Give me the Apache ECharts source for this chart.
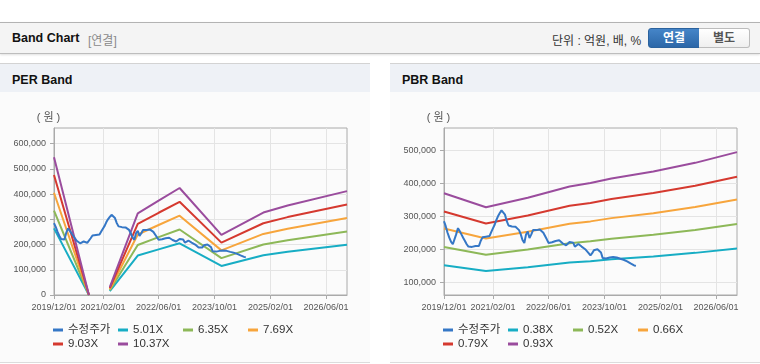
<!DOCTYPE html>
<html><head><meta charset="utf-8">
<script src="https://cdn.jsdelivr.net/npm/echarts@6/dist/echarts.min.js"></script>
<style>
html,body{margin:0;padding:0;width:760px;height:364px;background:#fff;overflow:hidden;font-family:"Liberation Sans",Arial,"Noto Sans CJK KR",sans-serif;}
.abs{position:absolute;}
#topbar{left:0;top:22px;width:760px;height:30px;background:#f4f4f4;border-top:1px solid #b3b3b3;border-bottom:1px solid #bdbdbd;box-shadow:0 1px 2px rgba(0,0,0,0.12);}
.title{font-weight:bold;font-size:12.5px;color:#111;}
.panel{top:63px;height:298px;background:#fbfbfb;border-top:1px solid #d3d3d3;border-bottom:1px solid #dcdcdc;}
.phead{left:0;top:0;right:0;height:28px;background:#eef1f6;}
#chart{left:0;top:0;width:760px;height:364px;}
.btn{top:28px;height:18px;width:50px;font-size:12px;font-weight:bold;text-align:center;line-height:18px;box-sizing:content-box;}
</style></head>
<body>
<div id="topbar" class="abs"></div>
<div class="abs title" style="left:12px;top:31px;">Band Chart</div>
<div class="abs" style="left:88px;top:31px;font-size:12px;color:#8a8a8a;">[연결]</div>
<div class="abs" style="left:552px;top:31px;font-size:12px;color:#333;">단위 : 억원, 배, %</div>
<div class="abs btn" style="left:648px;background:linear-gradient(#4585c8,#2c67a8);border:1px solid #2b629d;border-radius:3px 0 0 3px;color:#fff;">연결</div>
<div class="abs btn" style="left:699px;background:linear-gradient(#ffffff,#efefef);border:1px solid #bcbcbc;border-left:none;border-radius:0 3px 3px 0;color:#555;">별도</div>
<div class="abs panel" style="left:0;width:370px;"><div class="abs phead"></div><div class="abs title" style="left:12px;top:9px;">PER Band</div></div>
<div class="abs panel" style="left:390px;width:370px;"><div class="abs phead"></div><div class="abs title" style="left:12px;top:9px;">PBR Band</div></div>
<div id="chart" class="abs"></div>
<script>
// ---------- data (values in thousand won) ----------
const UNIT = 1000;
const xTickLabels = ['2019/12/01','2021/02/01','2022/06/01','2023/10/01','2025/02/01','2026/06/01'];
const xStart = '2019/12/01', xEnd = '2026/12/01';
const yTicksPER = [0,100000,200000,300000,400000,500000,600000];
const yTicksPBR = [100000,200000,300000,400000,500000];

// 수정주가: semi-monthly (1st and 16th) from 2019/12/01
const priceStart = '2019/12/01';
const priceValues = [285,270,250,235,222,215,220,245,264,255,
  245,235,225,215,208,205,207,212,210,207,
  210,225,236,240,238,239,240,252,264,275,
  288,300,310,318,322,305,285,272,269,269,
  270,268,262,258,245,228,219,245,254,234,
  245,258,260,258,257,260,255,250,245,230,
  219,220,221,222,225,229,227,222,218,215,
  212,216,222,228,220,208,210,216,212,208,
  204,200,194,188,181,188,197,203,200,195,
  190,173,170,172,174,175,176,176,176,175,
  173,171,169,168,166,163,160,157,154,151,149];

// PER band
const perNames = ['5.01X','6.35X','7.69X','9.03X','10.37X'];
const perDates = ['2019/12/01','2020/10/01','2021/01/01','2021/04/01','2021/12/01','2022/06/01','2022/12/01','2023/12/01','2024/12/01','2025/07/01','2026/12/01'];
const per501  = [264.0,0,null,15.0,156.3,180.9,204.9,115.2,157.8,171.3,198.9];
const per635  = [334.6,0,null,19.1,198.1,229.2,259.7,146.1,200.0,217.2,252.1];
const per769  = [405.3,0,null,23.1,239.9,277.6,314.5,176.9,242.2,263.0,305.3];
const per903  = [475.9,0,null,27.1,281.7,326.0,369.3,207.7,284.4,308.8,358.5];
const per1037 = [546.5,0,null,31.1,323.5,374.4,424.1,238.5,326.7,354.7,411.7];

// PBR band
const pbrNames = ['0.38X','0.52X','0.66X','0.79X','0.93X'];
const pbrDates = ['2019/12/01','2020/12/01','2021/12/01','2022/12/01','2023/06/01','2023/12/01','2024/12/01','2025/12/01','2026/12/01'];
const pbr038 = [151.2,133.8,145.5,159.6,163.8,169.5,178.2,188.9,202.2];
const pbr052 = [207.0,183.0,199.2,218.4,224.1,231.9,243.9,258.4,276.6];
const pbr066 = [262.7,232.3,252.8,277.2,284.5,294.4,309.5,328.0,351.1];
const pbr079 = [314.4,278.1,302.6,331.8,340.5,352.3,370.5,392.6,420.3];
const pbr093 = [370.1,327.4,356.2,390.6,400.8,414.8,436.2,462.2,494.8];

const priceName = '수정주가';
const colors = {price:'#3577c6', b1:'#17adc4', b2:'#8db858', b3:'#f7a53c', b4:'#d5392f', b5:'#9a4c9d'};

// ---------- helpers ----------
function ts(s){const p=s.split('/').map(Number);return Date.UTC(p[0],p[1]-1,p[2]);}
function pad(n){return (n<10?'0':'')+n;}
function fmtDate(v){const d=new Date(v);return d.getUTCFullYear()+'/'+pad(d.getUTCMonth()+1)+'/'+pad(d.getUTCDate());}
const s0 = ts(priceStart);
const priceDates = priceValues.map((_,i)=>{const d=new Date(s0);return Date.UTC(d.getUTCFullYear(), d.getUTCMonth()+Math.floor(i/2), i%2?16:1);});
const FONT = '"Liberation Sans", Arial, "Noto Sans CJK KR", sans-serif';
const tickTs = xTickLabels.map(ts);

function xAxis(gi){return {type:'value',gridIndex:gi,min:ts(xStart),max:ts(xEnd),scale:true,
  axisLine:{show:true,lineStyle:{color:'#aaaaaa'}},
  axisTick:{show:true,length:4,customValues:tickTs,lineStyle:{color:'#aaaaaa'}},
  axisLabel:{customValues:tickTs,formatter:v=>fmtDate(v),fontSize:9,color:'#555',margin:8,fontFamily:FONT,hideOverlap:false,showMinLabel:true,showMaxLabel:true},
  splitLine:{show:true,lineStyle:{color:'#e4e4e4'}}};}
function yAxis(gi,min,max,ticks){return {type:'value',gridIndex:gi,min:min,max:max,
  name:'( 원 )',nameLocation:'end',nameGap:5,nameTextStyle:{fontSize:11,color:'#555',fontFamily:FONT,align:'center',padding:[0,11,0,0]},
  axisLine:{show:true,lineStyle:{color:'#aaaaaa'}},
  axisTick:{show:true,length:4,customValues:ticks,lineStyle:{color:'#aaaaaa'}},
  axisLabel:{customValues:ticks,formatter:v=>v.toLocaleString('en-US'),fontSize:9,color:'#555',margin:8,fontFamily:FONT},
  splitLine:{show:true,lineStyle:{color:'#e4e4e4'}}};}
function line(name,gi,dates,vals,color){return {type:'line',name:name,xAxisIndex:gi,yAxisIndex:gi,
  data:dates.map((d,i)=>[typeof d==='number'?d:ts(d), vals[i]==null?null:vals[i]*UNIT]),
  showSymbol:false,symbol:'none',connectNulls:false,color:color,lineStyle:{width:2,color:color},z:2};}
function legend(left,top,names){return {left:left,top:top,data:names,icon:'rect',itemWidth:10,itemHeight:3,itemGap:0,padding:0,selectedMode:false,
  textStyle:{fontSize:11.5,color:'#333',width:50,lineHeight:12,fontFamily:FONT}};}

const perVals=[per501,per635,per769,per903,per1037];
const pbrVals=[pbr038,pbr052,pbr066,pbr079,pbr093];
const bandColors=[colors.b1,colors.b2,colors.b3,colors.b4,colors.b5];

const series=[];
series.push(line(priceName,0,priceDates,priceValues,colors.price));
perNames.forEach((n,i)=>series.push(line(n,0,perDates,perVals[i],bandColors[i])));
series.push(line(priceName,1,priceDates,priceValues,colors.price));
pbrNames.forEach((n,i)=>series.push(line(n,1,pbrDates,pbrVals[i],bandColors[i])));
series.forEach(s=>{ if(s.name===priceName){s.z=3;} });

const chart = echarts.init(document.getElementById('chart'),null,{renderer:'canvas'});
chart.setOption({
  animation:false, backgroundColor:'transparent',
  grid:[{left:54,top:128,width:293,height:167,show:true,borderColor:'#aaaaaa',borderWidth:1,containLabel:false},
        {left:444,top:128,width:293,height:167,show:true,borderColor:'#aaaaaa',borderWidth:1,containLabel:false}],
  xAxis:[xAxis(0),xAxis(1)],
  yAxis:[yAxis(0,0,662000,yTicksPER),yAxis(1,61000,568000,yTicksPBR)],
  legend:[legend(53,324,[priceName,perNames[0],perNames[1],perNames[2]]),
          legend(53,338,[perNames[3],perNames[4]]),
          legend(443,324,[priceName,pbrNames[0],pbrNames[1],pbrNames[2]]),
          legend(443,338,[pbrNames[3],pbrNames[4]])],
  series:series
});
</script>
</body></html>
